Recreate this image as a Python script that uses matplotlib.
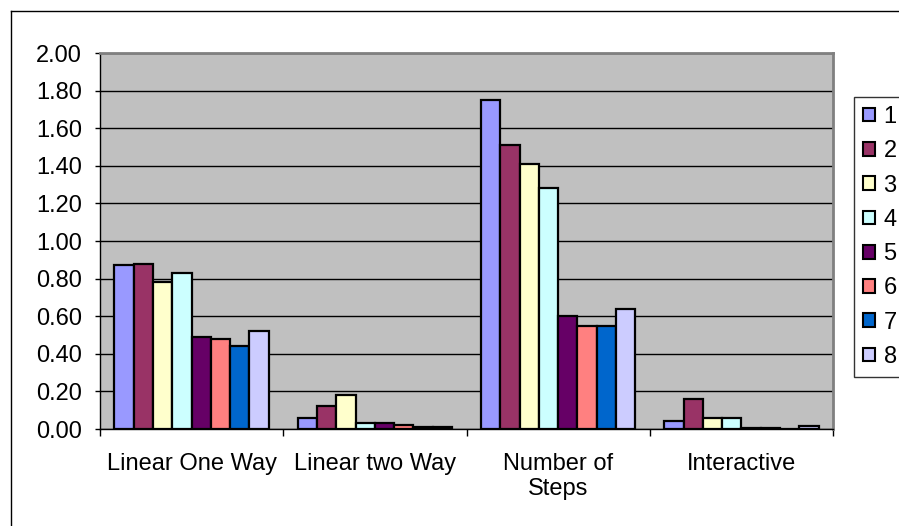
import matplotlib
matplotlib.use("Agg")
import matplotlib.pyplot as plt
from matplotlib.patches import Patch
from matplotlib.lines import Line2D
import numpy as np

plt.rcParams['font.family'] = ['Liberation Sans', 'DejaVu Sans']

categories = ["Linear One Way", "Linear two Way", "Number of\nSteps", "Interactive"]
series_labels = ["1", "2", "3", "4", "5", "6", "7", "8"]

series_1 = [0.87, 0.06, 1.75, 0.04]
series_2 = [0.88, 0.12, 1.51, 0.16]
series_3 = [0.78, 0.18, 1.41, 0.06]
series_4 = [0.83, 0.03, 1.28, 0.06]
series_5 = [0.49, 0.03, 0.60, 0.005]
series_6 = [0.48, 0.02, 0.55, 0.005]
series_7 = [0.44, 0.01, 0.55, 0.0]
series_8 = [0.52, 0.01, 0.64, 0.015]

y_ticks = [0.0, 0.2, 0.4, 0.6, 0.8, 1.0, 1.2, 1.4, 1.6, 1.8, 2.0]

series = [series_1, series_2, series_3, series_4,
          series_5, series_6, series_7, series_8]
colors = ["#9999FF", "#993366", "#FFFFCC", "#CCFFFF",
          "#660066", "#FF8080", "#0066CC", "#CCCCFF"]

FS = 17
W, H = 899, 526
fig = plt.figure(figsize=(W / 100, H / 100), dpi=100)
fig.patch.set_facecolor("white")

# outer chart border (left and top edges visible)
fig.add_artist(Line2D([11 / W, 11 / W], [0, 1 - 11 / H], color="black", lw=1.0,
                      transform=fig.transFigure))
fig.add_artist(Line2D([11 / W, 1], [1 - 11 / H, 1 - 11 / H], color="black", lw=1.0,
                      transform=fig.transFigure))

left, right, top, bottom = 100, 833, 53, 429
ax = fig.add_axes([left / W, (H - bottom) / H, (right - left) / W, (bottom - top) / H])
ax.set_facecolor("#C0C0C0")

n = len(series)
x = np.arange(len(categories))
bw = 1.0 / (n + 1.5)
for i, (vals, c, lab) in enumerate(zip(series, colors, series_labels)):
    ax.bar(x + (i - (n - 1) / 2) * bw, vals, width=bw, color=c,
           edgecolor="black", linewidth=1.6, label=lab, zorder=3)

ax.set_xlim(-0.5, len(categories) - 0.5)
ax.set_ylim(0, 2.0)
ax.set_yticks(y_ticks)
ax.set_yticklabels([f"{v:.2f}" for v in y_ticks])
ax.yaxis.grid(True, color="black", linewidth=1.0, zorder=1)
ax.set_axisbelow(True)

ax.set_xticks(x)
ax.set_xticklabels(categories, linespacing=1.2)
ax.set_xticks(np.arange(len(categories) + 1) - 0.5, minor=True)
ax.tick_params(axis="x", which="major", length=0, pad=17, labelsize=FS)
ax.tick_params(axis="x", which="minor", length=5, width=1, direction="out")
ax.tick_params(axis="y", length=3.6, width=1, direction="out", pad=9.4, labelsize=FS)

for s in ("left", "bottom"):
    ax.spines[s].set_color("black")
    ax.spines[s].set_linewidth(1.0)
for s in ("top", "right"):
    ax.spines[s].set_color("#808080")
    ax.spines[s].set_linewidth(2.0)

handles = [Patch(facecolor=c, edgecolor="black", linewidth=1.5) for c in colors]
leg = fig.legend(handles, series_labels, loc="upper left",
                 bbox_to_anchor=(854 / W, 1 - 97 / H), frameon=True,
                 fancybox=False, fontsize=FS, handlelength=0.52, handleheight=0.52,
                 handletextpad=0.35, labelspacing=0.52, borderpad=0.38,
                 borderaxespad=0)
leg.get_frame().set_edgecolor("black")
leg.get_frame().set_linewidth(1.0)

fig.savefig("out.png", dpi=100)
